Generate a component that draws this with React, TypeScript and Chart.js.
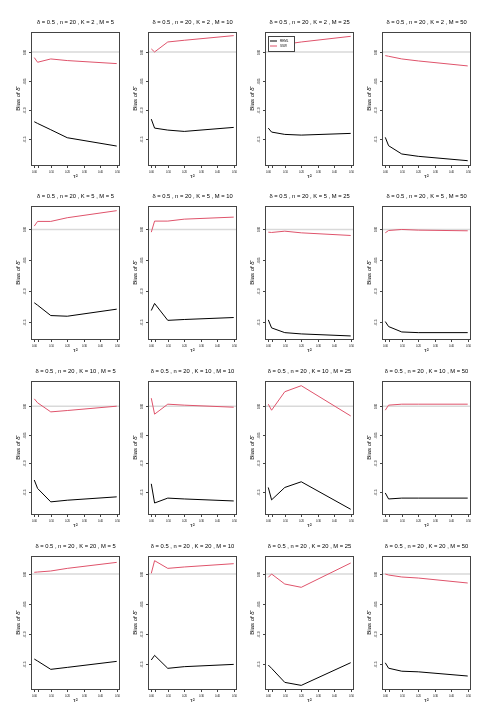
import React, { useEffect, useRef } from "react";
import { Chart, registerables } from "chart.js";
Chart.register(...registerables);

// ---------- data ----------
const TAU2 = [0, 0.02, 0.1, 0.2, 0.5];
const X_TICKS = [0, 0.02, 0.1, 0.2, 0.3, 0.4, 0.5];
const X_TICK_LABELS = ["0.00", "", "0.10", "0.20", "0.30", "0.40", "0.50"];
const X_LIMITS = [-0.02, 0.52];

const Y_TICKS = [0, -0.05, -0.1, -0.15];
const Y_TICK_LABELS = ["0.00", "-0.05", "-0.10", "-0.15"];
const ROW_Y_LIMITS = [
  [-0.1956, 0.0342],
  [-0.18, 0.0382],
  [-0.1906, 0.0441],
  [-0.1933, 0.03],
];

const DELTA = "0.5";
const N_SIZE = "20";
const K_VALUES = [2, 5, 10, 20];
const M_VALUES = [5, 10, 25, 50];
const SERIES_NAMES = ["REML", "SSW"];

// K = 2
const black_K2_M5 = [-0.1197, -0.1226, -0.1334, -0.1471, -0.1614];
const red_K2_M5 = [-0.0097, -0.0177, -0.012, -0.0148, -0.02];
const black_K2_M10 = [-0.1152, -0.1306, -0.134, -0.1363, -0.1294];
const red_K2_M10 = [0.0052, 0.0, 0.0171, 0.02, 0.028];
const black_K2_M25 = [-0.1306, -0.1374, -0.1414, -0.1426, -0.1397];
const red_K2_M25 = [0.0086, 0.0097, 0.0131, 0.0171, 0.0268];
const black_K2_M50 = [-0.1465, -0.1608, -0.175, -0.179, -0.1865];
const red_K2_M50 = [-0.0063, -0.0074, -0.012, -0.0154, -0.024];
// K = 5
const black_K5_M5 = [-0.1194, -0.1233, -0.1402, -0.1413, -0.1298];
const red_K5_M5 = [0.0055, 0.0131, 0.0131, 0.0191, 0.0306];
const black_K5_M10 = [-0.132, -0.1205, -0.148, -0.1466, -0.1434];
const red_K5_M10 = [-0.0044, 0.0136, 0.0136, 0.0168, 0.0201];
const black_K5_M25 = [-0.1472, -0.1603, -0.168, -0.1701, -0.1734];
const red_K5_M25 = [-0.0044, -0.0049, -0.0028, -0.0055, -0.0098];
const black_K5_M50 = [-0.15, -0.1581, -0.1669, -0.168, -0.168];
const red_K5_M50 = [-0.0055, -0.0017, 0.0, -0.0011, -0.0022];
// K = 10
const black_K10_M5 = [-0.1294, -0.1441, -0.1676, -0.1647, -0.1588];
const red_K10_M5 = [0.0129, 0.0059, -0.01, -0.0076, 0.0];
const black_K10_M10 = [-0.136, -0.1696, -0.161, -0.1625, -0.166];
const red_K10_M10 = [0.014, -0.014, 0.0035, 0.0018, -0.0018];
const black_K10_M25 = [-0.1424, -0.1641, -0.1424, -0.1324, -0.1806];
const red_K10_M25 = [0.0035, -0.0071, 0.0253, 0.0359, -0.0171];
const black_K10_M50 = [-0.152, -0.1625, -0.161, -0.161, -0.161];
const red_K10_M50 = [-0.007, 0.0018, 0.0035, 0.0035, 0.0035];
// K = 20
const black_K20_M5 = [-0.1417, -0.145, -0.1589, -0.1556, -0.1456];
const red_K20_M5 = [0.0028, 0.0033, 0.005, 0.0094, 0.0194];
const black_K20_M10 = [-0.1433, -0.1356, -0.1572, -0.1544, -0.1506];
const red_K20_M10 = [0.0011, 0.0222, 0.0094, 0.0117, 0.0172];
const black_K20_M25 = [-0.1517, -0.1572, -0.1806, -0.1856, -0.1478];
const red_K20_M25 = [-0.0056, 0.0, -0.0167, -0.0222, 0.0183];
const black_K20_M50 = [-0.148, -0.157, -0.162, -0.163, -0.17];
const red_K20_M50 = [0.0, -0.0017, -0.005, -0.0067, -0.015];

const BLACK_ROWS = [
  [black_K2_M5, black_K2_M10, black_K2_M25, black_K2_M50],
  [black_K5_M5, black_K5_M10, black_K5_M25, black_K5_M50],
  [black_K10_M5, black_K10_M10, black_K10_M25, black_K10_M50],
  [black_K20_M5, black_K20_M10, black_K20_M25, black_K20_M50],
];
const RED_ROWS = [
  [red_K2_M5, red_K2_M10, red_K2_M25, red_K2_M50],
  [red_K5_M5, red_K5_M10, red_K5_M25, red_K5_M50],
  [red_K10_M5, red_K10_M10, red_K10_M25, red_K10_M50],
  [red_K20_M5, red_K20_M10, red_K20_M25, red_K20_M50],
];

// ---------- style / layout ----------
const FONT = "'Liberation Sans', Arial, Helvetica, sans-serif";
const BLACK = "#000000";
const RED = "#DF536B";
const CANVAS_W = 124;
const CANVAS_H = 181;
const COL_LEFT = [0, 117, 234, 351];
const ROW_TOP = [0, 174, 349, 524];

function makePlugin(title: string, showLegend: boolean) {
  return {
    id: "rpanel",
    beforeDatasetsDraw(chart: any) {
      const { ctx, chartArea: a, scales } = chart;
      const y0 = scales.y.getPixelForValue(0);
      ctx.save();
      ctx.strokeStyle = "#d9d9d9";
      ctx.lineWidth = 1.5;
      ctx.beginPath();
      ctx.moveTo(a.left, y0);
      ctx.lineTo(a.right, y0);
      ctx.stroke();
      ctx.restore();
    },
    afterDraw(chart: any) {
      const { ctx, chartArea: a, scales } = chart;
      const xs = scales.x;
      const ys = scales.y;
      ctx.save();
      ctx.strokeStyle = "#444";
      ctx.lineWidth = 1;
      ctx.strokeRect(a.left + 0.5, a.top + 0.5, a.right - a.left - 1, a.bottom - a.top - 1);
      const cx = (a.left + a.right) / 2;
      ctx.fillStyle = "#000";
      ctx.textAlign = "center";
      ctx.textBaseline = "middle";
      ctx.font = `5.8px ${FONT}`;
      ctx.fillText(title, cx, 22.7);
      ctx.font = `2.6px ${FONT}`;
      ctx.strokeStyle = "#444";
      X_TICKS.forEach((v, i) => {
        const px = Math.round(xs.getPixelForValue(v)) + 0.5;
        ctx.beginPath();
        ctx.moveTo(px, a.bottom);
        ctx.lineTo(px, a.bottom + 2);
        ctx.stroke();
        if (X_TICK_LABELS[i]) ctx.fillText(X_TICK_LABELS[i], px, 172.3);
      });
      Y_TICKS.forEach((v, i) => {
        if (v < ys.min || v > ys.max) return;
        const py = Math.round(ys.getPixelForValue(v)) + 0.5;
        ctx.beginPath();
        ctx.moveTo(a.left, py);
        ctx.lineTo(a.left - 2, py);
        ctx.stroke();
        ctx.save();
        ctx.translate(25, py);
        ctx.rotate(-Math.PI / 2);
        ctx.fillText(Y_TICK_LABELS[i], 0, 0);
        ctx.restore();
      });
      ctx.font = `6px ${FONT}`;
      ctx.fillText("\u03C4\u00B2", cx, 176);
      ctx.save();
      ctx.translate(18.3, (a.top + a.bottom) / 2);
      ctx.rotate(-Math.PI / 2);
      ctx.fillText("Bias of \u03B4\u0302", 0, 0);
      ctx.restore();
      if (showLegend) {
        const lx = a.left + 3;
        const ly = a.top + 4;
        ctx.fillStyle = "#fff";
        ctx.fillRect(lx, ly, 26, 15);
        ctx.strokeStyle = "#444";
        ctx.strokeRect(lx + 0.5, ly + 0.5, 26, 15);
        const cols = [BLACK, RED];
        SERIES_NAMES.forEach((name, i) => {
          const yy = ly + 5 + i * 5;
          ctx.strokeStyle = cols[i];
          ctx.lineWidth = 1;
          ctx.beginPath();
          ctx.moveTo(lx + 2, yy);
          ctx.lineTo(lx + 9, yy);
          ctx.stroke();
          ctx.fillStyle = "#000";
          ctx.textAlign = "left";
          ctx.font = `3px ${FONT}`;
          ctx.fillText(name, lx + 12, yy);
        });
      }
      ctx.restore();
    },
  };
}

function Panel({ row, col }: { row: number; col: number }) {
  const ref = useRef<HTMLCanvasElement | null>(null);
  useEffect(() => {
    if (!ref.current) return;
    const title = `\u03B4 = ${DELTA} , n = ${N_SIZE} , K = ${K_VALUES[row]} , M = ${M_VALUES[col]}`;
    const black = BLACK_ROWS[row][col];
    const red = RED_ROWS[row][col];
    const chart = new Chart(ref.current, {
      type: "line",
      data: {
        datasets: [
          {
            label: SERIES_NAMES[0],
            data: TAU2.map((x, i) => ({ x, y: black[i] })),
            borderColor: BLACK,
            borderWidth: 1,
            pointRadius: 0,
            tension: 0,
          },
          {
            label: SERIES_NAMES[1],
            data: TAU2.map((x, i) => ({ x, y: red[i] })),
            borderColor: RED,
            borderWidth: 1,
            pointRadius: 0,
            tension: 0,
          },
        ],
      },
      options: {
        animation: false,
        responsive: false,
        events: [],
        layout: { padding: { left: 31, right: 4, top: 32, bottom: 15 } },
        plugins: { legend: { display: false }, title: { display: false }, tooltip: { enabled: false } },
        scales: {
          x: { type: "linear", display: false, min: X_LIMITS[0], max: X_LIMITS[1] },
          y: { type: "linear", display: false, min: ROW_Y_LIMITS[row][0], max: ROW_Y_LIMITS[row][1] },
        },
      },
      plugins: [makePlugin(title, row === 0 && col === 2)],
    });
    return () => chart.destroy();
  }, [row, col]);
  return (
    <canvas
      ref={ref}
      width={CANVAS_W}
      height={CANVAS_H}
      style={{ position: "absolute", left: COL_LEFT[col], top: ROW_TOP[row], width: CANVAS_W, height: CANVAS_H }}
    />
  );
}

export default function App() {
  const cells: any[] = [];
  for (let r = 0; r < 4; r++) for (let c = 0; c < 4; c++) cells.push(<Panel key={`${r}-${c}`} row={r} col={c} />);
  return (
    <div style={{ position: "absolute", left: 0, top: 0, width: 495, height: 726, background: "#fff", overflow: "hidden" }}>
      {cells}
    </div>
  );
}
